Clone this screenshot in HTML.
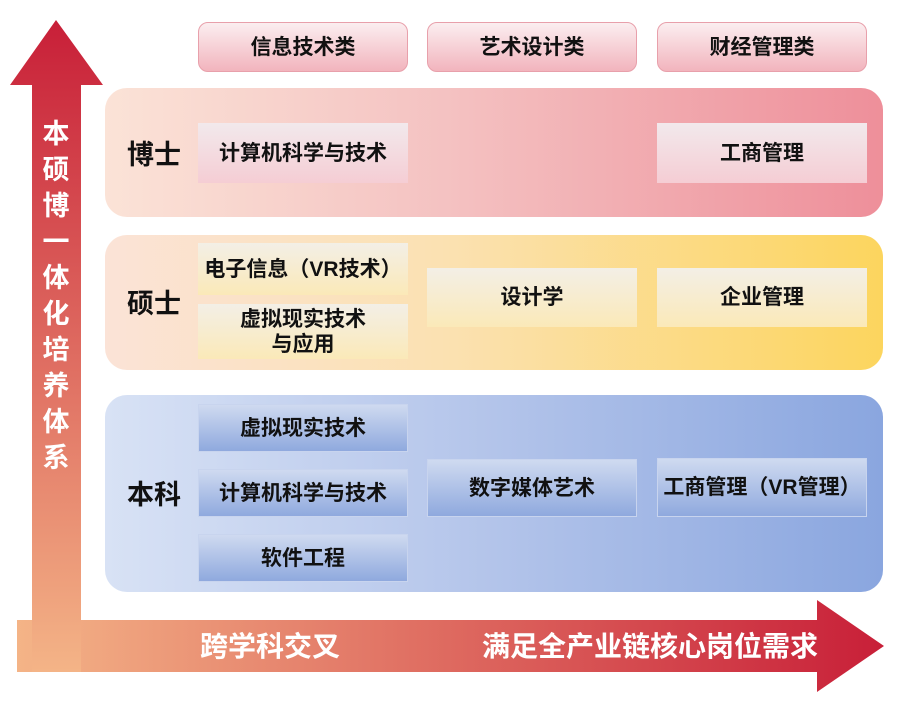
<!DOCTYPE html>
<html><head><meta charset="utf-8"><style>
body{margin:0;width:898px;height:711px;background:#fff;position:relative;overflow:hidden;font-family:"Liberation Sans","Noto Sans CJK SC",sans-serif;font-weight:bold}
.a{position:absolute;box-sizing:border-box;display:flex;align-items:center;justify-content:center;text-align:center;color:#111;font-size:21px;line-height:25px}
.hd{border:1px solid #e8a0ab;border-radius:10px;background:linear-gradient(#fbeef0,#f2b4bd)}
.p{border-radius:22px}
.bp{background:linear-gradient(#f2e9ec,#f5cdd4)}
.by{background:linear-gradient(#f3efe6,#fbe9b8)}
.bb{background:linear-gradient(#cfdaf0,#8fa9de);border:1px solid #c8d4ee}
.lab{font-size:27px}
</style></head><body>
<svg width="898" height="711" style="position:absolute;left:0;top:0">
<defs>
<linearGradient id="gv" gradientUnits="userSpaceOnUse" x1="0" y1="20" x2="0" y2="672"><stop offset="0" stop-color="#c81f38"/><stop offset="1" stop-color="#f4b487"/></linearGradient>
<linearGradient id="gh" gradientUnits="userSpaceOnUse" x1="17" y1="0" x2="884" y2="0"><stop offset="0" stop-color="#f4b487"/><stop offset="1" stop-color="#c81f38"/></linearGradient>
</defs>
<polygon points="17,620 817,620 817,600 884,646 817,692 817,672 17,672" fill="url(#gh)"/>
<polygon points="56,20 103,85 81,85 81,672 32,672 32,85 10,85" fill="url(#gv)"/>
</svg>
<div class="a" style="left:38px;top:118px;width:36px;height:356px;flex-direction:column;color:#fff;font-size:27px;line-height:36px">本<br>硕<br>博<br>一<br>体<br>化<br>培<br>养<br>体<br>系</div>
<div class="a" style="left:160px;top:626px;width:220px;height:40px;color:#fff;font-size:28px">跨学科交叉</div>
<div class="a" style="left:470px;top:626px;width:360px;height:40px;color:#fff;font-size:28px">满足全产业链核心岗位需求</div>

<div class="a hd" style="left:198px;top:22px;width:210px;height:50px">信息技术类</div>
<div class="a hd" style="left:427px;top:22px;width:210px;height:50px">艺术设计类</div>
<div class="a hd" style="left:657px;top:22px;width:210px;height:50px">财经管理类</div>

<div class="a p" style="left:105px;top:88px;width:778px;height:129px;background:linear-gradient(90deg,#fbe3d7,#f4c1c1 45%,#ee8f9a)"></div>
<div class="a p" style="left:105px;top:235px;width:778px;height:135px;background:linear-gradient(90deg,#fbe3d7,#fbe1b0 45%,#fcd55e)"></div>
<div class="a p" style="left:105px;top:395px;width:778px;height:197px;background:linear-gradient(90deg,#d8e2f5,#b3c4ea 50%,#8aa6df)"></div>

<div class="a lab" style="left:118px;top:135px;width:72px;height:40px">博士</div>
<div class="a lab" style="left:118px;top:284px;width:72px;height:40px">硕士</div>
<div class="a lab" style="left:118px;top:475px;width:72px;height:40px">本科</div>

<div class="a bp" style="left:198px;top:123px;width:210px;height:60px">计算机科学与技术</div>
<div class="a bp" style="left:657px;top:123px;width:210px;height:60px">工商管理</div>

<div class="a by" style="left:198px;top:243px;width:210px;height:52px">电子信息（VR技术）</div>
<div class="a by" style="left:198px;top:304px;width:210px;height:55px">虚拟现实技术<br>与应用</div>
<div class="a by" style="left:427px;top:268px;width:210px;height:59px">设计学</div>
<div class="a by" style="left:657px;top:268px;width:210px;height:59px">企业管理</div>

<div class="a bb" style="left:198px;top:404px;width:210px;height:48px">虚拟现实技术</div>
<div class="a bb" style="left:198px;top:469px;width:210px;height:48px">计算机科学与技术</div>
<div class="a bb" style="left:198px;top:534px;width:210px;height:48px">软件工程</div>
<div class="a bb" style="left:427px;top:459px;width:210px;height:58px">数字媒体艺术</div>
<div class="a bb" style="left:657px;top:458px;width:210px;height:59px">工商管理（VR管理）</div>
</body></html>
